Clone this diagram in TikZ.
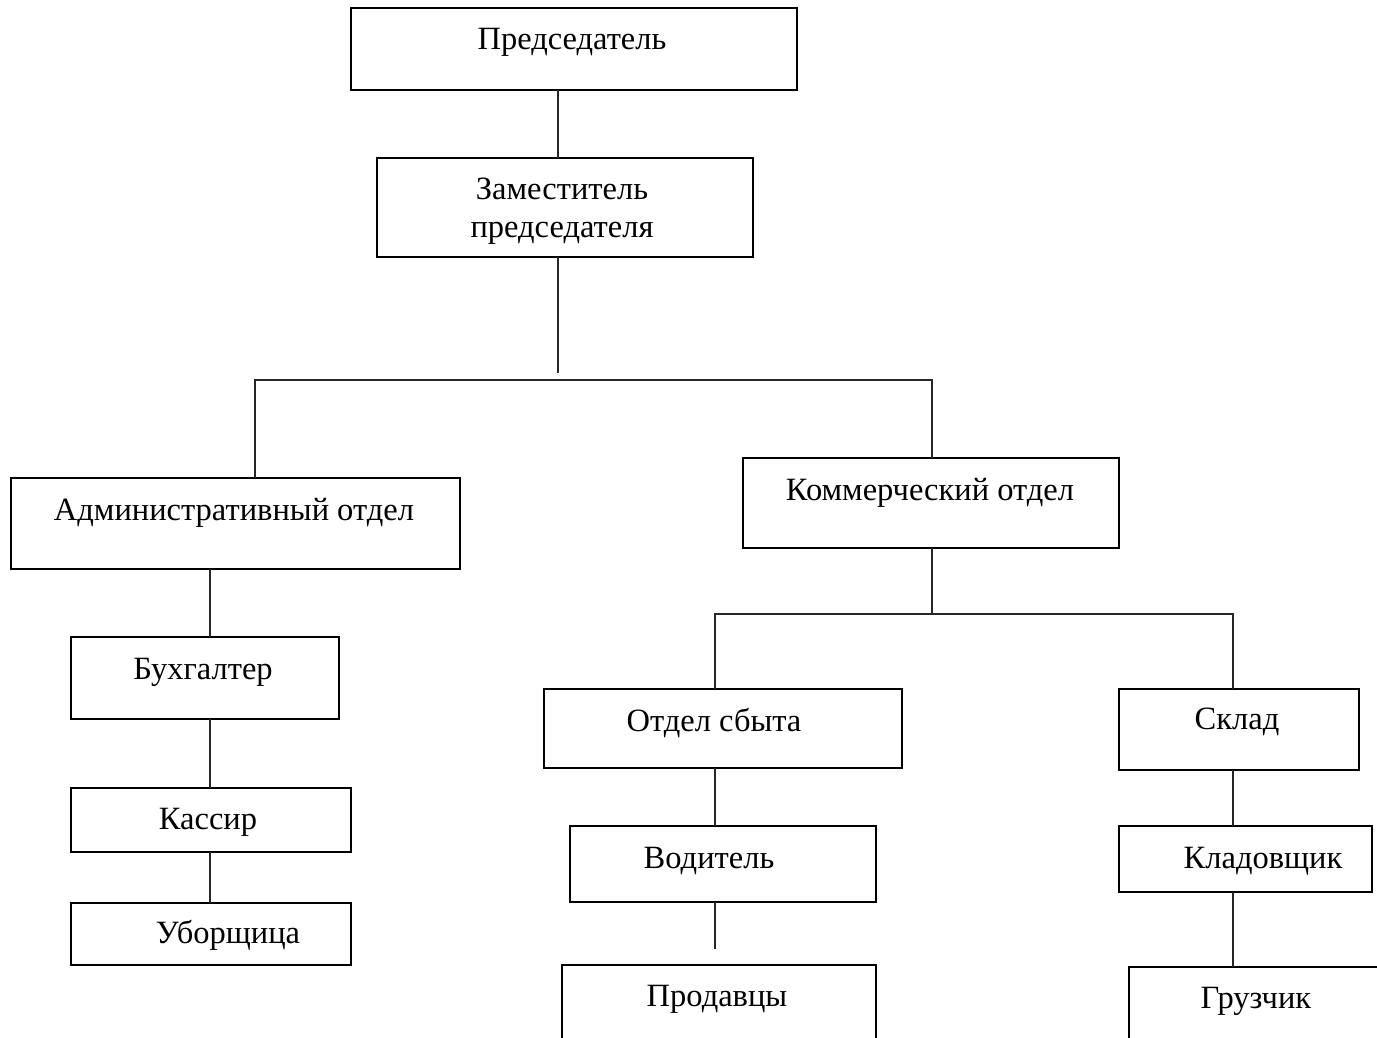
\documentclass[tikz,border=0pt]{standalone}
\usepackage{fontspec}
\setmainfont{Liberation Serif}
\usepackage{tikz}

\begin{document}
\begin{tikzpicture}[x=1pt, y=-1pt,
    orgbox/.style={draw, line width=2pt, rectangle, inner sep=0pt, outer sep=0pt},
    boxtext/.style={anchor=base, inner sep=0pt, font=\fontsize{32.5}{38}\selectfont},
    link/.style={line width=2pt, black!85}]
    \useasboundingbox (0,0) rectangle (1377,1038);
    \clip (0,0) rectangle (1377,1038);

    % boxes
    \node[orgbox, minimum width=446pt, minimum height=82pt] (pred) at (574, 49) {};
    \node[orgbox, minimum width=376pt, minimum height=99pt] (zam) at (565, 207.5) {};
    \node[orgbox, minimum width=449pt, minimum height=91pt] (adm) at (235.5, 523.5) {};
    \node[orgbox, minimum width=376pt, minimum height=90pt] (kom) at (931, 503) {};
    \node[orgbox, minimum width=268pt, minimum height=82pt] (buh) at (205, 678) {};
    \node[orgbox, minimum width=280pt, minimum height=64pt] (kas) at (211, 820) {};
    \node[orgbox, minimum width=280pt, minimum height=62pt] (ubo) at (211, 934) {};
    \node[orgbox, minimum width=358pt, minimum height=79pt] (sbyt) at (723, 728.5) {};
    \node[orgbox, minimum width=306pt, minimum height=76pt] (vod) at (723, 864) {};
    \node[orgbox, minimum width=314pt, minimum height=95pt] (prod) at (719, 1012.5) {};
    \node[orgbox, minimum width=240pt, minimum height=81pt] (sklad) at (1239, 729.5) {};
    \node[orgbox, minimum width=253pt, minimum height=66pt] (klad) at (1245.5, 859) {};
    \node[orgbox, minimum width=271pt, minimum height=93pt] (gruz) at (1264.5, 1013.5) {};

    % texts
    \node[boxtext] (predT) at (572, 50) {Председатель};
    \node[boxtext, align=center] (zamT) at (562, 237) {Заместитель\\председателя};
    \node[boxtext] (admT) at (234, 520) {Административный отдел};
    \node[boxtext] (komT) at (930, 500) {Коммерческий отдел};
    \node[boxtext] (buhT) at (203, 679) {Бухгалтер};
    \node[boxtext] (kasT) at (208, 829) {Кассир};
    \node[boxtext] (uboT) at (228, 943) {Уборщица};
    \node[boxtext] (sbytT) at (714, 731) {Отдел сбыта};
    \node[boxtext] (vodT) at (709, 868) {Водитель};
    \node[boxtext] (prodT) at (717, 1006) {Продавцы};
    \node[boxtext] (skladT) at (1237, 729) {Склад};
    \node[boxtext] (kladT) at (1263, 868) {Кладовщик};
    \node[boxtext] (gruzT) at (1256, 1008) {Грузчик};

    % lines
    \coordinate (trunk) at (558, 373);
    \coordinate (busL) at (255, 380);
    \coordinate (busR) at (932, 380);
    \coordinate (bus2L) at (715, 614);
    \coordinate (bus2R) at (1233, 614);
    \coordinate (colA) at (210, 0);
    \coordinate (vodEnd) at (715, 949);

    \draw[link] (pred.south -| trunk) -- (zam.north -| trunk);
    \draw[link] (zam.south -| trunk) -- (trunk);
    \draw[link] (adm.north -| busL) -- (busL) -- (busR) -- (kom.north -| busR);
    \draw[link] (kom.south -| busR) -- (busR |- bus2L);
    \draw[link] (sbyt.north -| bus2L) -- (bus2L) -- (bus2R) -- (sklad.north -| bus2R);
    \draw[link] (adm.south -| colA) -- (buh.north -| colA);
    \draw[link] (buh.south -| colA) -- (kas.north -| colA);
    \draw[link] (kas.south -| colA) -- (ubo.north -| colA);
    \draw[link] (sbyt.south -| bus2L) -- (vod.north -| bus2L);
    \draw[link] (vod.south -| bus2L) -- (vodEnd);
    \draw[link] (sklad.south -| bus2R) -- (klad.north -| bus2R);
    \draw[link] (klad.south -| bus2R) -- (gruz.north -| bus2R);
\end{tikzpicture}
\end{document}
